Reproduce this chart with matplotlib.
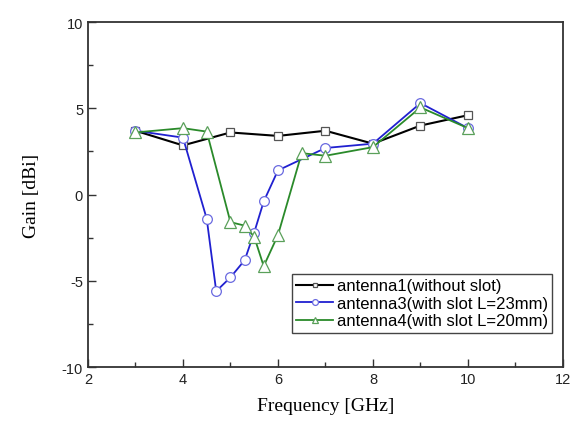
import matplotlib
matplotlib.use('Agg')
import matplotlib.pyplot as plt
from matplotlib.ticker import MultipleLocator

# antenna gain vs frequency
freq1 = [3, 4, 5, 6, 7, 8, 9, 10]
gain1 = [3.7, 2.85, 3.6, 3.4, 3.7, 2.95, 4.0, 4.6]

freq3 = [3, 4, 4.5, 4.7, 5, 5.3, 5.5, 5.7, 6, 7, 8, 9, 10]
gain3 = [3.7, 3.3, -1.4, -5.6, -4.8, -3.8, -2.2, -0.4, 1.4, 2.7, 2.95, 5.3, 3.85]

freq4 = [3, 4, 4.5, 5, 5.3, 5.5, 5.7, 6, 6.5, 7, 8, 9, 10]
gain4 = [3.6, 3.85, 3.65, -1.6, -1.8, -2.45, -4.15, -2.35, 2.4, 2.25, 2.75, 5.05, 3.85]

labels = ['antenna1(without slot)', 'antenna3(with slot L=23mm)', 'antenna4(with slot L=20mm)']

plt.rcParams['font.family'] = ['Liberation Sans', 'DejaVu Sans']
plt.rcParams['axes.unicode_minus'] = False

fig = plt.figure(figsize=(5.75, 4.27), dpi=100)
ax = fig.add_axes([0.153, 0.138, 0.826, 0.808])

ax.plot(freq1, gain1, color='black', marker='s', ms=6, mfc='white', mec='#555555', mew=0.9, lw=1.5, label=labels[0])
ax.plot(freq3, gain3, color='#2020d0', marker='o', ms=7, mfc='white', mec='#6a6ae0', mew=0.9, lw=1.3, label=labels[1])
ax.plot(freq4, gain4, color='#2a8a2a', marker='^', ms=8, mfc='white', mec='#5aa05a', mew=0.9, lw=1.3, label=labels[2])

ax.set_xlim(2, 12)
ax.set_ylim(-10, 10)
ax.xaxis.set_major_locator(MultipleLocator(2))
ax.xaxis.set_minor_locator(MultipleLocator(1))
ax.yaxis.set_major_locator(MultipleLocator(5))
ax.yaxis.set_minor_locator(MultipleLocator(2.5))
ax.tick_params(which='both', direction='in', top=False, right=False, labelsize=10.5,
               color='#333333', labelcolor='#222222')
ax.tick_params(which='major', length=6, width=1)
ax.tick_params(which='minor', length=3.5, width=1)
for s in ax.spines.values():
    s.set_linewidth(1.3)
    s.set_color('#333333')

ax.set_xlabel('Frequency [GHz]', family='Liberation Serif', fontsize=14, labelpad=8)
ax.set_ylabel('Gain [dBi]', family='Liberation Serif', fontsize=14, labelpad=16)

leg = ax.legend(loc='lower left', bbox_to_anchor=(0.43, 0.1), fontsize=12, fancybox=False,
                edgecolor='#444444', framealpha=1, handlelength=2.2, handletextpad=0.25,
                borderpad=0.25, labelspacing=0.15, borderaxespad=0, markerscale=0.6)
leg.get_frame().set_linewidth(1.0)

fig.savefig('out.png', dpi=100)
